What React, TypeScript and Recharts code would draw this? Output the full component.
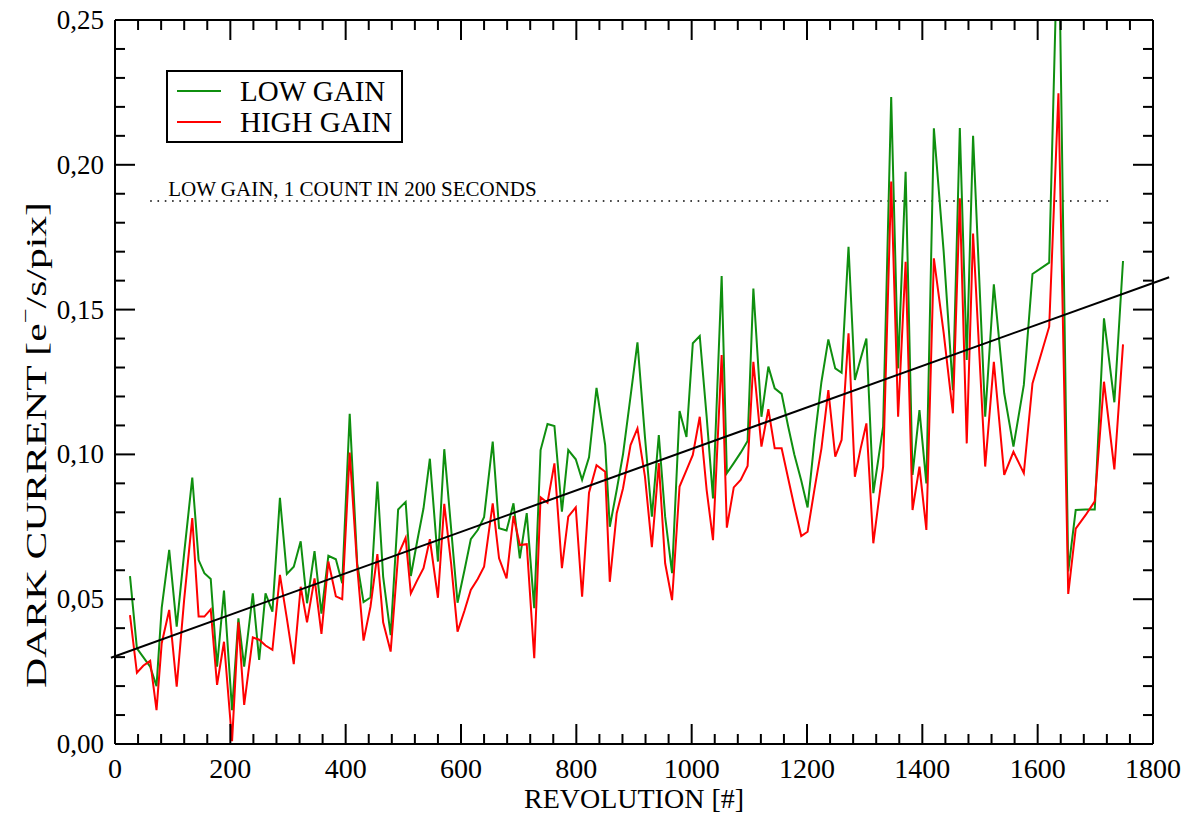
import React from 'react';
import { LineChart, Line, XAxis, YAxis, ReferenceLine } from 'recharts';

// revolution number of each measurement
const revolutions = [
  26, 38, 49, 61, 72, 81, 94, 107, 120, 134,
  145, 155, 166, 177, 189, 203, 214, 224, 239, 250,
  261, 273, 286, 298, 310, 322, 333, 346, 358, 370,
  383, 394, 407, 420, 431, 443, 455, 465, 478, 491,
  504, 513, 524, 535, 546, 560, 571, 583, 594, 606,
  617, 629, 640, 655, 666, 679, 691, 702, 714, 727,
  738, 750, 762, 775, 786, 799, 810, 822, 835, 850,
  858, 870, 881, 894, 906, 919, 931, 943, 954, 966,
  979, 991, 1002, 1014, 1026, 1037, 1052, 1061, 1073, 1085,
  1097, 1107, 1121, 1133, 1144, 1156, 1167, 1178, 1190, 1201,
  1213, 1225, 1237, 1249, 1260, 1272, 1283, 1293, 1303, 1315,
  1332, 1346, 1358, 1371, 1383, 1395, 1407, 1420, 1437, 1453,
  1465, 1477, 1488, 1509, 1524, 1542, 1558, 1576, 1591, 1620,
  1636, 1653, 1666, 1683, 1699, 1715, 1733, 1748,
];

const lowGain = [
  0.058, 0.033, 0.030, 0.0267, 0.020, 0.047, 0.067, 0.0405, 0.066, 0.092,
  0.0635, 0.059, 0.057, 0.0267, 0.053, 0.0117, 0.0434, 0.0267, 0.052, 0.029,
  0.052, 0.0457, 0.085, 0.0587, 0.0612, 0.070, 0.0486, 0.0666, 0.045, 0.065,
  0.0638, 0.0555, 0.114, 0.0624, 0.049, 0.0506, 0.0906, 0.0578, 0.0376, 0.081,
  0.0836, 0.058, 0.070, 0.0814, 0.0985, 0.063, 0.1018, 0.074, 0.0488, 0.060,
  0.0707, 0.0739, 0.0783, 0.1044, 0.0745, 0.0737, 0.0831, 0.0641, 0.0797, 0.0469,
  0.1015, 0.1105, 0.1098, 0.0802, 0.1015, 0.0983, 0.0912, 0.099, 0.123, 0.1032,
  0.075, 0.0877, 0.1001, 0.120, 0.1387, 0.106, 0.0785, 0.1067, 0.0785, 0.059,
  0.115, 0.106, 0.1384, 0.1409, 0.113, 0.0848, 0.1616, 0.0935, 0.097, 0.1006,
  0.1046, 0.1573, 0.113, 0.1303, 0.1228, 0.1209, 0.110, 0.100, 0.091, 0.0817,
  0.105, 0.125, 0.1397, 0.1297, 0.1282, 0.1717, 0.1257, 0.133, 0.140, 0.0866,
  0.1096, 0.2234, 0.1297, 0.1976, 0.0929, 0.1153, 0.090, 0.2126, 0.170, 0.1222,
  0.2127, 0.1326, 0.210, 0.113, 0.1587, 0.1211, 0.1027, 0.124, 0.1623, 0.1662,
  0.29, 0.0596, 0.0808, 0.081, 0.081, 0.147, 0.118, 0.1668,
];

const highGain = [
  0.0445, 0.0246, 0.027, 0.0287, 0.0117, 0.0348, 0.0463, 0.0198, 0.050, 0.078,
  0.044, 0.044, 0.0465, 0.0204, 0.0353, 0.001, 0.042, 0.0135, 0.0368, 0.036,
  0.034, 0.0325, 0.0584, 0.0434, 0.0276, 0.0543, 0.042, 0.0572, 0.038, 0.063,
  0.051, 0.050, 0.1006, 0.0612, 0.0357, 0.0474, 0.0656, 0.042, 0.0319, 0.0653,
  0.0712, 0.052, 0.0565, 0.0607, 0.0707, 0.0505, 0.0829, 0.062, 0.0388, 0.046,
  0.0532, 0.057, 0.0612, 0.0831, 0.0641, 0.0572, 0.0787, 0.0687, 0.069, 0.0296,
  0.0852, 0.0833, 0.0969, 0.0607, 0.0785, 0.0817, 0.0509, 0.0868, 0.0963, 0.094,
  0.056, 0.0797, 0.0883, 0.1032, 0.109, 0.0923, 0.068, 0.097, 0.0624, 0.0497,
  0.0889, 0.0946, 0.0998, 0.113, 0.0877, 0.0704, 0.1343, 0.0747, 0.0886, 0.0912,
  0.096, 0.132, 0.1027, 0.1156, 0.1021, 0.1021, 0.092, 0.082, 0.0718, 0.0733,
  0.088, 0.102, 0.1222, 0.0992, 0.105, 0.1418, 0.0923, 0.102, 0.1107, 0.0693,
  0.0958, 0.1942, 0.113, 0.1665, 0.0808, 0.0958, 0.0739, 0.1677, 0.142, 0.1142,
  0.1884, 0.1038, 0.1763, 0.0958, 0.132, 0.0929, 0.1009, 0.0935, 0.1245, 0.1441,
  0.2247, 0.0518, 0.0744, 0.079, 0.0838, 0.1251, 0.0948, 0.138,
];

// linear fit drawn across the whole plot
const fitIntercept = 0.0303;
const fitSlope = 0.0000716;
const fitRange = [-7, 1828];

// "1 count in 200 seconds" level
const thresholdLevel = 0.1875;
const thresholdRange = [61, 1729];

const xTickValues = Array.from({ length: 46 }, (_, i) => i * 40);
const yTickValues = Array.from({ length: 26 }, (_, i) => i / 100);

const FONT = '"Liberation Serif", "Times New Roman", Times, serif';
const GREEN = '#0f8f0f';
const RED = '#ff0000';

const isMajorX = (v: number) => v % 200 === 0;
const isMajorY = (v: number) => Math.round(v * 100) % 5 === 0;
const fmtY = (v: number) => v.toFixed(2).replace('.', ',');

const BottomTick = (props: any) => {
  const { x, y, payload } = props;
  const major = isMajorX(payload.value);
  return (
    <g>
      <line x1={x} x2={x} y1={y} y2={y - (major ? 20 : 10)} stroke="#000" strokeWidth={2} />
      {major && (
        <text x={x} y={y + 34} textAnchor="middle" fontSize={28} fontFamily={FONT} fill="#000">
          {payload.value}
        </text>
      )}
    </g>
  );
};

const TopTick = (props: any) => {
  const { x, y, payload } = props;
  const major = isMajorX(payload.value);
  return <line x1={x} x2={x} y1={y} y2={y + (major ? 20 : 10)} stroke="#000" strokeWidth={2} />;
};

const LeftTick = (props: any) => {
  const { x, y, payload } = props;
  const major = isMajorY(payload.value);
  return (
    <g>
      <line x1={x} x2={x + (major ? 20 : 10)} y1={y} y2={y} stroke="#000" strokeWidth={2} />
      {major && (
        <text x={x - 11} y={y + 9} textAnchor="end" fontSize={27} fontFamily={FONT} fill="#000">
          {fmtY(payload.value)}
        </text>
      )}
    </g>
  );
};

const RightTick = (props: any) => {
  const { x, y, payload } = props;
  const major = isMajorY(payload.value);
  return <line x1={x} x2={x - (major ? 20 : 10)} y1={y} y2={y} stroke="#000" strokeWidth={2} />;
};

const XTitle = (props: any) => {
  const vb = props.viewBox || { x: 115, y: 744, width: 1038, height: 69 };
  return (
    <text x={vb.x + vb.width / 2} y={vb.y + 64} textAnchor="middle" fontSize={28} fontFamily={FONT} fill="#000">
      REVOLUTION [#]
    </text>
  );
};

const YTitle = (props: any) => {
  const vb = props.viewBox || { x: 0, y: 20, width: 115, height: 724 };
  const cx = vb.x + 35;
  const cy = vb.y + 425;
  return (
    <text
      x={cx}
      y={cy}
      transform={`rotate(-90 ${cx} ${cy})`}
      textAnchor="middle"
      dominantBaseline="central"
      fontSize={30}
      textLength={486}
      lengthAdjust="spacingAndGlyphs"
      fontFamily={FONT}
      fill="#000"
    >
      DARK CURRENT [e<tspan dy={-10} fontSize={19}>−</tspan>
      <tspan dy={10}>/s/pix]</tspan>
    </text>
  );
};

const ThresholdLabel = (props: any) => {
  const vb = props.viewBox || { x: 150, y: 201 };
  return (
    <text x={vb.x + 18} y={vb.y - 5} fontSize={21} fontFamily={FONT} fill="#000">
      LOW GAIN, 1 COUNT IN 200 SECONDS
    </text>
  );
};

const legendItems = [
  { name: 'LOW GAIN', color: GREEN },
  { name: 'HIGH GAIN', color: RED },
];

export default function App() {
  const data = revolutions.map((rev, i) => ({ rev, low: lowGain[i], high: highGain[i] }));
  const fitSegment = fitRange.map((x) => ({ x, y: fitIntercept + fitSlope * x }));
  const thresholdSegment = thresholdRange.map((x) => ({ x, y: thresholdLevel }));
  const frame = { stroke: '#000', strokeWidth: 2 };

  return (
    <div style={{ position: 'absolute', left: 0, top: 0, width: 1199, height: 813, background: '#fff', fontFamily: FONT }}>
      <LineChart width={1199} height={813} data={data} margin={{ top: 0, right: 0, bottom: 0, left: 0 }}>
        <XAxis
          xAxisId="b"
          dataKey="rev"
          type="number"
          domain={[0, 1800]}
          ticks={xTickValues}
          interval={0}
          allowDataOverflow
          height={69}
          tickSize={0}
          tickMargin={0}
          tickLine={false}
          axisLine={frame}
          tick={<BottomTick />}
          label={<XTitle />}
        />
        <XAxis
          xAxisId="t"
          orientation="top"
          dataKey="rev"
          type="number"
          domain={[0, 1800]}
          ticks={xTickValues}
          interval={0}
          allowDataOverflow
          height={20}
          tickSize={0}
          tickMargin={0}
          tickLine={false}
          axisLine={frame}
          tick={<TopTick />}
        />
        <YAxis
          yAxisId="l"
          type="number"
          domain={[0, 0.25]}
          ticks={yTickValues}
          interval={0}
          allowDataOverflow
          width={115}
          tickSize={0}
          tickMargin={0}
          tickLine={false}
          axisLine={frame}
          tick={<LeftTick />}
          label={<YTitle />}
        />
        <YAxis
          yAxisId="r"
          orientation="right"
          type="number"
          domain={[0, 0.25]}
          ticks={yTickValues}
          interval={0}
          allowDataOverflow
          width={46}
          tickSize={0}
          tickMargin={0}
          tickLine={false}
          axisLine={frame}
          tick={<RightTick />}
        />
        <ReferenceLine
          xAxisId="b"
          yAxisId="l"
          segment={thresholdSegment}
          stroke="#000"
          strokeWidth={1.6}
          strokeDasharray="1.6 5.7"
          label={<ThresholdLabel />}
        />
        <Line xAxisId="b" yAxisId="l" type="linear" dataKey="low" name="LOW GAIN" stroke={GREEN} strokeWidth={2} dot={false} isAnimationActive={false} />
        <Line xAxisId="b" yAxisId="l" type="linear" dataKey="high" name="HIGH GAIN" stroke={RED} strokeWidth={2} dot={false} isAnimationActive={false} />
        <ReferenceLine xAxisId="b" yAxisId="l" segment={fitSegment} stroke="#000" strokeWidth={2} ifOverflow="visible" />
      </LineChart>
      <div
        style={{
          position: 'absolute',
          left: 166,
          top: 70,
          width: 237,
          height: 73,
          border: '2px solid #000',
          boxSizing: 'border-box',
          background: '#fff',
        }}
      >
        {legendItems.map((item, i) => (
          <div
            key={item.name}
            style={{ position: 'absolute', left: 9, top: 2 + i * 31, height: 34, display: 'flex', alignItems: 'center' }}
          >
            <div style={{ width: 44, height: 2, background: item.color }} />
            <span style={{ marginLeft: 19, fontSize: 29, lineHeight: '34px', color: '#000', whiteSpace: 'nowrap' }}>{item.name}</span>
          </div>
        ))}
      </div>
    </div>
  );
}
